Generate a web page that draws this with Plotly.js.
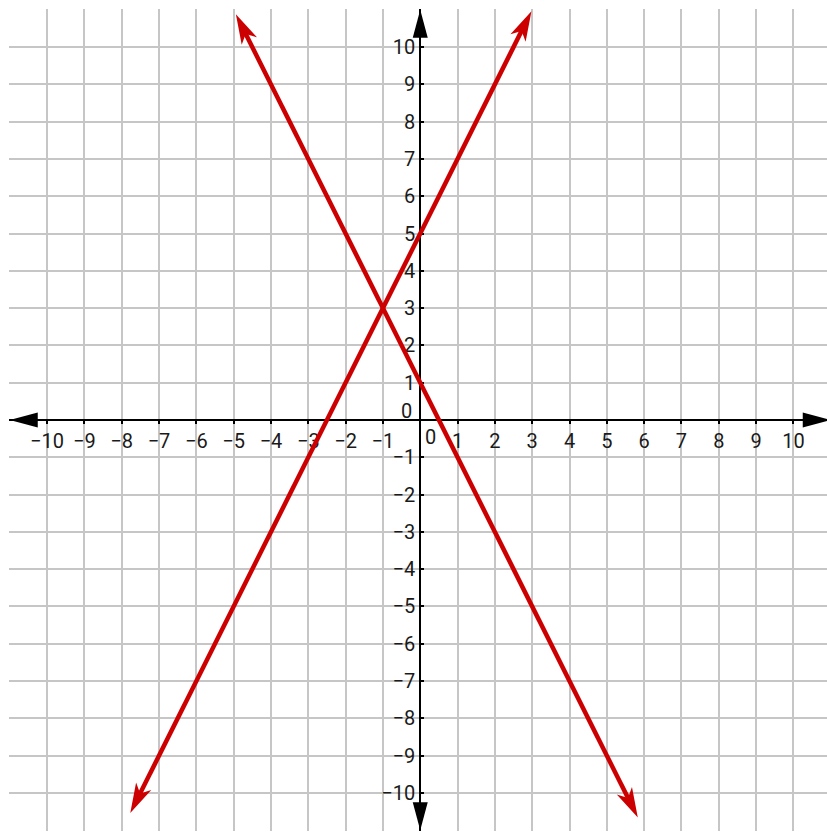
<!DOCTYPE html>
<html>
<head>
<meta charset="utf-8">
<script src="https://cdn.plot.ly/plotly-3.0.1.min.js"></script>
<style>
  html, body { margin: 0; padding: 0; background: #fff; }
  #chart { width: 827px; height: 832px; }
</style>
</head>
<body>
<div id="chart"></div>
<script>
// axis ticks
const tickVals = [-10, -9, -8, -7, -6, -5, -4, -3, -2, -1, 1, 2, 3, 4, 5, 6, 7, 8, 9, 10];
const tickText = ['\u221210', '\u22129', '\u22128', '\u22127', '\u22126', '\u22125', '\u22124', '\u22123', '\u22122', '\u22121',
                  '1', '2', '3', '4', '5', '6', '7', '8', '9', '10'];

// red lines, arrow tip to arrow tip (y = 2x + 5 and y = -2x + 1)
const line1X = [-7.77, 2.98];
const line1Y = [-10.54, 10.96];
const line2X = [-4.94, 5.83];
const line2Y = [10.88, -10.66];

const AXIS_END = 11;

const W = 827, H = 832;
const M = {l: 9, r: 0, t: 9, b: 1};
const X_RANGE = [-11.02, 10.9];
const Y_RANGE = [-11.02, 11.02];
const PX_X = (W - M.l - M.r) / (X_RANGE[1] - X_RANGE[0]);
const PX_Y = (H - M.t - M.b) / (Y_RANGE[1] - Y_RANGE[0]);

const RED = '#cc0000';
const GRID = '#c6c6c6';
const INK = '#1a1a1a';

// arrowhead as a pixel sized path shape, tip at (x1, y1), pointing away from (x0, y0)
function arrowHead(x0, y0, x1, y1, color, len, half, notch) {
  var dx = (x1 - x0) * PX_X;
  var dy = (y1 - y0) * PX_Y;
  var n = Math.sqrt(dx * dx + dy * dy);
  var ux = dx / n, uy = dy / n;
  var pts = [
    [0, 0],
    [-len * ux - half * uy, -len * uy + half * ux],
    [-notch * ux, -notch * uy],
    [-len * ux + half * uy, -len * uy - half * ux]
  ];
  var path = 'M' + pts.map(p => p[0].toFixed(2) + ',' + p[1].toFixed(2)).join('L') + 'Z';
  return {
    type: 'path', xref: 'x', yref: 'y',
    xsizemode: 'pixel', ysizemode: 'pixel',
    xanchor: x1, yanchor: y1,
    path: path,
    fillcolor: color,
    line: {width: 0},
    layer: 'above'
  };
}

// pull a line end back by some pixels so the stroke hides under the arrowhead
function pullBack(xs, ys, px) {
  var dx = (xs[1] - xs[0]) * PX_X;
  var dy = (ys[1] - ys[0]) * PX_Y;
  var n = Math.sqrt(dx * dx + dy * dy);
  var fx = (xs[1] - xs[0]) * px / n;
  var fy = (ys[1] - ys[0]) * px / n;
  return {x: [xs[0] + fx, xs[1] - fx], y: [ys[0] + fy, ys[1] - fy]};
}

var l1 = pullBack(line1X, line1Y, 14);
var l2 = pullBack(line2X, line2Y, 14);

var data = [{
  x: l1.x, y: l1.y,
  mode: 'lines',
  line: {color: RED, width: 4.5},
  hoverinfo: 'skip'
}, {
  x: l2.x, y: l2.y,
  mode: 'lines',
  line: {color: RED, width: 4.5},
  hoverinfo: 'skip'
}];

var shapes = [
  arrowHead(line1X[1], line1Y[1], line1X[0], line1Y[0], RED, 30, 8.5, 22),
  arrowHead(line1X[0], line1Y[0], line1X[1], line1Y[1], RED, 30, 8.5, 22),
  arrowHead(line2X[1], line2Y[1], line2X[0], line2Y[0], RED, 30, 8.5, 22),
  arrowHead(line2X[0], line2Y[0], line2X[1], line2Y[1], RED, 30, 8.5, 22),
  arrowHead(0, 0, -AXIS_END, 0, '#000', 28, 7.5, 28),
  arrowHead(0, 0, AXIS_END, 0, '#000', 28, 7.5, 28),
  arrowHead(0, 0, 0, AXIS_END, '#000', 28, 7.5, 28),
  arrowHead(0, 0, 0, -AXIS_END, '#000', 28, 7.5, 28)
];

var tickFont = {family: 'Roboto, "Liberation Sans", sans-serif', size: 20, color: INK};

var layout = {
  width: W,
  height: H,
  margin: M,
  paper_bgcolor: '#fff',
  plot_bgcolor: '#fff',
  showlegend: false,
  xaxis: {
    range: X_RANGE,
    anchor: 'free',
    position: (0 - Y_RANGE[0]) / (Y_RANGE[1] - Y_RANGE[0]),
    tickmode: 'array',
    tickvals: tickVals,
    ticktext: tickText,
    ticks: 'outside',
    ticklen: 3,
    tickwidth: 2,
    tickcolor: '#000',
    tickfont: tickFont,
    showline: true,
    linecolor: '#000',
    linewidth: 2,
    zeroline: false,
    showgrid: true,
    gridcolor: GRID,
    gridwidth: 2,
    minor: {dtick: 1, tick0: 0, showgrid: true, gridcolor: GRID, gridwidth: 2, ticks: ''},
    layer: 'below traces',
    fixedrange: true
  },
  yaxis: {
    range: Y_RANGE,
    anchor: 'free',
    position: (0 - X_RANGE[0]) / (X_RANGE[1] - X_RANGE[0]),
    tickmode: 'array',
    tickvals: tickVals,
    ticktext: tickText,
    ticks: 'inside',
    ticklen: 3,
    tickwidth: 2,
    tickcolor: '#000',
    tickfont: tickFont,
    showline: true,
    linecolor: '#000',
    linewidth: 2,
    zeroline: false,
    showgrid: true,
    gridcolor: GRID,
    gridwidth: 2,
    minor: {dtick: 1, tick0: 0, showgrid: true, gridcolor: GRID, gridwidth: 2, ticks: ''},
    layer: 'below traces',
    fixedrange: true
  },
  shapes: shapes,
  annotations: [
    {x: 0, y: 0, xref: 'x', yref: 'y', text: '0', showarrow: false, font: tickFont,
     xanchor: 'center', yanchor: 'middle', xshift: -14, yshift: 9},
    {x: 0, y: 0, xref: 'x', yref: 'y', text: '0', showarrow: false, font: tickFont,
     xanchor: 'center', yanchor: 'middle', xshift: 10, yshift: -17}
  ]
};

Plotly.newPlot('chart', data, layout, {displayModeBar: false, staticPlot: true});
</script>
</body>
</html>
